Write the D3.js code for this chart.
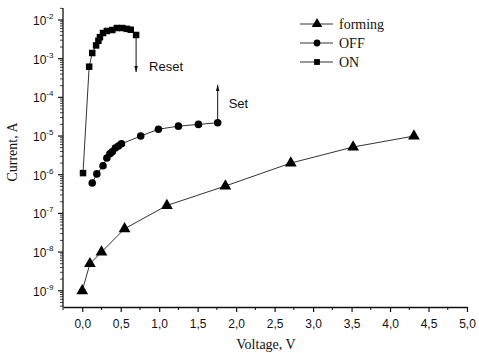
<!DOCTYPE html>
<html>
<head>
<meta charset="utf-8">
<script src="https://cdn.jsdelivr.net/npm/d3@7"></script>
<style>
  body { margin: 0; background: #fff; }
  svg { display: block; }
</style>
</head>
<body>
<div id="chart"></div>
<script>
// forming (triangles)
const formingV = [0, 0.1, 0.25, 0.55, 1.1, 1.86, 2.71, 3.52, 4.31];
const formingI = [1e-9, 5e-9, 1e-8, 4e-8, 1.6e-7, 5.1e-7, 2.0e-6, 5.2e-6, 1e-5];

// OFF (circles)
const offV = [0.13, 0.19, 0.27, 0.32, 0.36, 0.39, 0.43, 0.47, 0.51, 0.76, 0.99, 1.25, 1.51, 1.76];
const offI = [6.1e-7, 1.05e-6, 1.7e-6, 2.7e-6, 3.5e-6, 3.9e-6, 4.9e-6, 5.5e-6, 6.3e-6, 1e-5, 1.5e-5, 1.8e-5, 2.0e-5, 2.2e-5];

// ON (squares)
const onV = [0.01, 0.09, 0.13, 0.18, 0.21, 0.23, 0.27, 0.32, 0.39, 0.45, 0.52, 0.58, 0.63, 0.70];
const onI = [1.1e-6, 6.2e-4, 1.4e-3, 2.2e-3, 2.9e-3, 3.6e-3, 4.6e-3, 5.2e-3, 5.5e-3, 6.2e-3, 6.2e-3, 5.9e-3, 5.6e-3, 4.1e-3];

const xTicks = [0, 0.5, 1, 1.5, 2, 2.5, 3, 3.5, 4, 4.5, 5];
const yExps = [-9, -8, -7, -6, -5, -4, -3, -2];

const legendNames = ["forming", "OFF", "ON"];

const W = 479, H = 353;
const mLeft = 63, mRight = 467, mTop = 8, mBottom = 307;

const svg = d3.select("#chart").append("svg").attr("width", W).attr("height", H);

const x = d3.scaleLinear().domain([-0.25, 5]).range([mLeft, mRight]);
const y = d3.scaleLog().domain([Math.pow(10, -9.42), Math.pow(10, -1.69)]).range([mBottom, mTop]);

// X axis
const xAxis = svg.append("g").attr("transform", `translate(0,${mBottom})`);
xAxis.call(d3.axisBottom(x).tickValues(xTicks).tickSize(5).tickSizeOuter(0)
  .tickFormat(d => d3.format(".1f")(d).replace(".", ",")))
  .call(g => g.selectAll("text").attr("font-family", "Liberation Sans, Arial, sans-serif")
    .attr("font-size", 12).attr("fill", "#111").attr("dy", "1.1em"))
  .call(g => g.select(".domain").attr("stroke", "#111").attr("stroke-width", 1.3))
  .call(g => g.selectAll(".tick line").attr("stroke", "#111").attr("stroke-width", 1.2));

const xMinor = d3.range(-0.25, 5.01, 0.5);
xAxis.selectAll(".minor").data(xMinor).enter().append("line")
  .attr("x1", d => x(d)).attr("x2", d => x(d))
  .attr("y1", 0).attr("y2", 3)
  .attr("stroke", "#111").attr("stroke-width", 1);

// Y axis
const yAxis = svg.append("g").attr("transform", `translate(${mLeft},0)`);
yAxis.append("line").attr("x1", 0).attr("x2", 0).attr("y1", mTop).attr("y2", mBottom)
  .attr("stroke", "#111").attr("stroke-width", 1.3);

const yMinor = [];
for (let e = -10; e <= -2; e++) {
  for (let k = 2; k <= 9; k++) {
    const v = k * Math.pow(10, e);
    if (y(v) <= mBottom && y(v) >= mTop) yMinor.push(v);
  }
}
yAxis.selectAll(".yminor").data(yMinor).enter().append("line")
  .attr("x1", -3).attr("x2", 0)
  .attr("y1", d => y(d)).attr("y2", d => y(d))
  .attr("stroke", "#111").attr("stroke-width", 0.8);

const yMajor = yAxis.selectAll(".ymajor").data(yExps).enter().append("g")
  .attr("transform", d => `translate(0,${y(Math.pow(10, d))})`);
yMajor.append("line").attr("x1", -5).attr("x2", 0).attr("stroke", "#111").attr("stroke-width", 1.2);
const yLab = yMajor.append("text")
  .attr("x", -30).attr("y", 5)
  .attr("font-family", "Liberation Sans, Arial, sans-serif")
  .attr("font-size", 12).attr("fill", "#111");
yLab.append("tspan").text("10");
yLab.append("tspan").attr("dy", -6).attr("font-size", 8).text(d => d);

// Axis titles
svg.append("text")
  .attr("x", (mLeft + mRight) / 2 + 1).attr("y", 349)
  .attr("text-anchor", "middle")
  .attr("font-family", "Liberation Serif, Times New Roman, serif")
  .attr("font-size", 14).attr("fill", "#111")
  .text("Voltage, V");

svg.append("text")
  .attr("transform", "translate(17,152) rotate(-90)")
  .attr("text-anchor", "middle")
  .attr("font-family", "Liberation Serif, Times New Roman, serif")
  .attr("font-size", 14).attr("fill", "#111")
  .text("Current, A");

// Series
const line = d3.line().x(d => x(d[0])).y(d => y(d[1]));
const series = [
  { name: "forming", data: d3.zip(formingV, formingI), sym: d3.symbolTriangle, size: 60 },
  { name: "OFF", data: d3.zip(offV, offI), sym: d3.symbolCircle, size: 45 },
  { name: "ON", data: d3.zip(onV, onI), sym: d3.symbolSquare, size: 42 }
];

series.forEach(s => {
  svg.append("path").datum(s.data)
    .attr("fill", "none").attr("stroke", "#333").attr("stroke-width", 1)
    .attr("d", line);
  svg.selectAll(null).data(s.data).enter().append("path")
    .attr("transform", d => `translate(${x(d[0])},${y(d[1])})`)
    .attr("d", d3.symbol().type(s.sym).size(s.size))
    .attr("fill", "#000");
});

// Arrows
const defs = svg.append("defs");
defs.append("marker").attr("id", "arr").attr("viewBox", "0 0 10 10")
  .attr("refX", 10).attr("refY", 5).attr("markerWidth", 6).attr("markerHeight", 6)
  .attr("orient", "auto")
  .append("path").attr("d", "M0,2 L10,5 L0,8 Z").attr("fill", "#111");

const resetX = onV[onV.length - 1], resetTop = onI[onI.length - 1];
svg.append("line")
  .attr("x1", x(resetX)).attr("x2", x(resetX))
  .attr("y1", y(resetTop)).attr("y2", y(4.5e-4))
  .attr("stroke", "#111").attr("stroke-width", 1).attr("marker-end", "url(#arr)");
svg.append("text").attr("x", x(resetX) + 13).attr("y", y(4.5e-4) - 1)
  .attr("font-family", "Liberation Sans, Arial, sans-serif").attr("font-size", 13).attr("fill", "#111")
  .text("Reset");

const setX = offV[offV.length - 1], setBot = offI[offI.length - 1];
svg.append("line")
  .attr("x1", x(setX)).attr("x2", x(setX))
  .attr("y1", y(setBot)).attr("y2", y(2.1e-4))
  .attr("stroke", "#111").attr("stroke-width", 1).attr("marker-end", "url(#arr)");
svg.append("text").attr("x", x(setX) + 11).attr("y", 108)
  .attr("font-family", "Liberation Sans, Arial, sans-serif").attr("font-size", 13).attr("fill", "#111")
  .text("Set");

// Legend
const legend = svg.append("g").attr("transform", "translate(300,24)");
series.forEach((s, i) => {
  const g = legend.append("g").attr("transform", `translate(0,${i * 19})`);
  g.append("line").attr("x1", 0).attr("x2", 33).attr("stroke", "#333").attr("stroke-width", 1);
  g.append("path").attr("transform", "translate(17,0)")
    .attr("d", d3.symbol().type(s.sym).size(s.size * 0.8)).attr("fill", "#000");
  g.append("text").attr("x", 39).attr("y", 5)
    .attr("font-family", "Liberation Serif, Times New Roman, serif")
    .attr("font-size", 14).attr("fill", "#111")
    .text(legendNames[i]);
});
</script>
</body>
</html>
